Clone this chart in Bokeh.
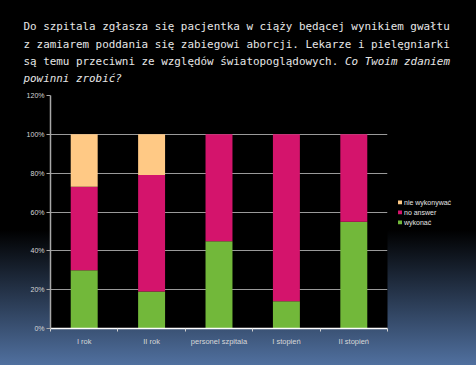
from bokeh.plotting import figure
from bokeh.models import (ColumnDataSource, Range1d, FixedTicker, PrintfTickFormatter,
                          Legend, LegendItem, Title)
from bokeh.embed import file_html
from bokeh.resources import INLINE
import numpy as np

categories = ["I rok", "II rok", "personel szpitala", "I stopień", "II stopień"]
wykonac = [30, 19, 45, 14, 55]
no_answer = [43, 60, 55, 86, 45]
nie_wykonywac = [27, 21, 0, 0, 0]
series_names = ["wykonać", "no answer", "nie wykonywać"]
series_colors = ["#72b83a", "#d4146c", "#ffc985"]
y_ticks = [0, 20, 40, 60, 80, 100, 120]

title_line1 = "Do szpitala zgłasza się pacjentka w ciąży będącej wynikiem gwałtu"
title_line2 = "z zamiarem poddania się zabiegowi aborcji. Lekarze i pielęgniarki"
title_line3 = "są temu przeciwni ze względów światopoglądowych. "
title_line3_it = "Co Twoim zdaniem"
title_line4_it = "powinni zrobić?"

xpos = np.arange(len(categories)) + 0.5
src = ColumnDataSource(dict(x=xpos, wykonac=wykonac, no_answer=no_answer,
                            nie_wykonywac=nie_wykonywac))

p = figure(frame_width=337, frame_height=233, output_backend="svg", toolbar_location=None,
           x_range=Range1d(0, len(categories)), y_range=Range1d(0, 120),
           title_location=None,
           min_border_left=50, min_border_right=89, min_border_top=95, min_border_bottom=37)
p.styles = {"background": "linear-gradient(to bottom, #000000 0%, #000000 63%, #50709f 100%)"}
p.border_fill_color = None
p.background_fill_color = "#000000"
p.outline_line_color = None

rs = p.vbar_stack(["wykonac", "no_answer", "nie_wykonywac"], x="x", width=0.4,
                  color=series_colors, line_color=None, source=src)

legend = Legend(items=[LegendItem(label=series_names[i], renderers=[rs[i]]) for i in (2, 1, 0)],
                location="center_left", glyph_width=5, glyph_height=5, label_width=10,
                label_height=7, spacing=3, padding=0, margin=10,
                label_text_font="Liberation Sans", label_text_font_size="7px",
                label_text_color="#e6e6e6", label_standoff=2,
                background_fill_alpha=0, border_line_color=None)
p.add_layout(legend, "right")

p.xaxis.ticker = FixedTicker(ticks=list(xpos), minor_ticks=list(range(len(categories) + 1)))
p.xaxis.major_label_overrides = {float(x): c for x, c in zip(xpos, categories)}
p.xaxis.major_tick_line_color = None
p.xaxis.minor_tick_out = 3
p.xaxis.minor_tick_in = 0
p.xaxis.minor_tick_line_color = "#d0d0d0"
p.xaxis.axis_line_color = "#ffffff"
p.xaxis.axis_line_width = 1.5
p.xaxis.major_label_text_font = "Liberation Sans"
p.xaxis.major_label_text_font_size = "7.5px"
p.xaxis.major_label_text_color = "#d8d8d8"
p.xaxis.major_label_standoff = 2

p.yaxis.ticker = FixedTicker(ticks=y_ticks)
p.yaxis.formatter = PrintfTickFormatter(format="%d%%")
p.yaxis.minor_tick_line_color = None
p.yaxis.major_tick_out = 4
p.yaxis.major_tick_in = 0
p.yaxis.major_tick_line_color = "#a8a8a8"
p.yaxis.axis_line_color = "#a8a8a8"
p.yaxis.axis_line_width = 1.5
p.yaxis.major_label_text_font = "Liberation Sans"
p.yaxis.major_label_text_font_size = "7px"
p.yaxis.major_label_text_color = "#d8d8d8"
p.yaxis.major_label_standoff = 2

p.xgrid.grid_line_color = None
p.ygrid.grid_line_color = "#9a9a9a"
p.ygrid.grid_line_width = 1

# ---- title block: stacked Title annotations (first added = nearest the frame) ----
font = "DejaVu Sans Mono"
fs = 10.9
char_w = fs * 0.602
h = 13.0          # estimated text box height
left_off = -27    # title starts 27px left of the frame


def add_title(text, size, italic=False, offset=left_off):
    p.add_layout(Title(text=text, align="left", vertical_align="middle", offset=offset,
                       standoff=size - 2 - h, text_font=font, text_font_size=f"{fs}px",
                       text_font_style="italic" if italic else "normal",
                       text_color="#e6e6e6"), "above")


add_title(title_line4_it, 34, italic=True)
add_title(title_line3_it, 0, italic=True, offset=left_off + len(title_line3) * char_w)
add_title(title_line3, 0)
add_title(title_line2, 35)
add_title(title_line1, 0)

open("out.html", "w").write(file_html(p, INLINE))
